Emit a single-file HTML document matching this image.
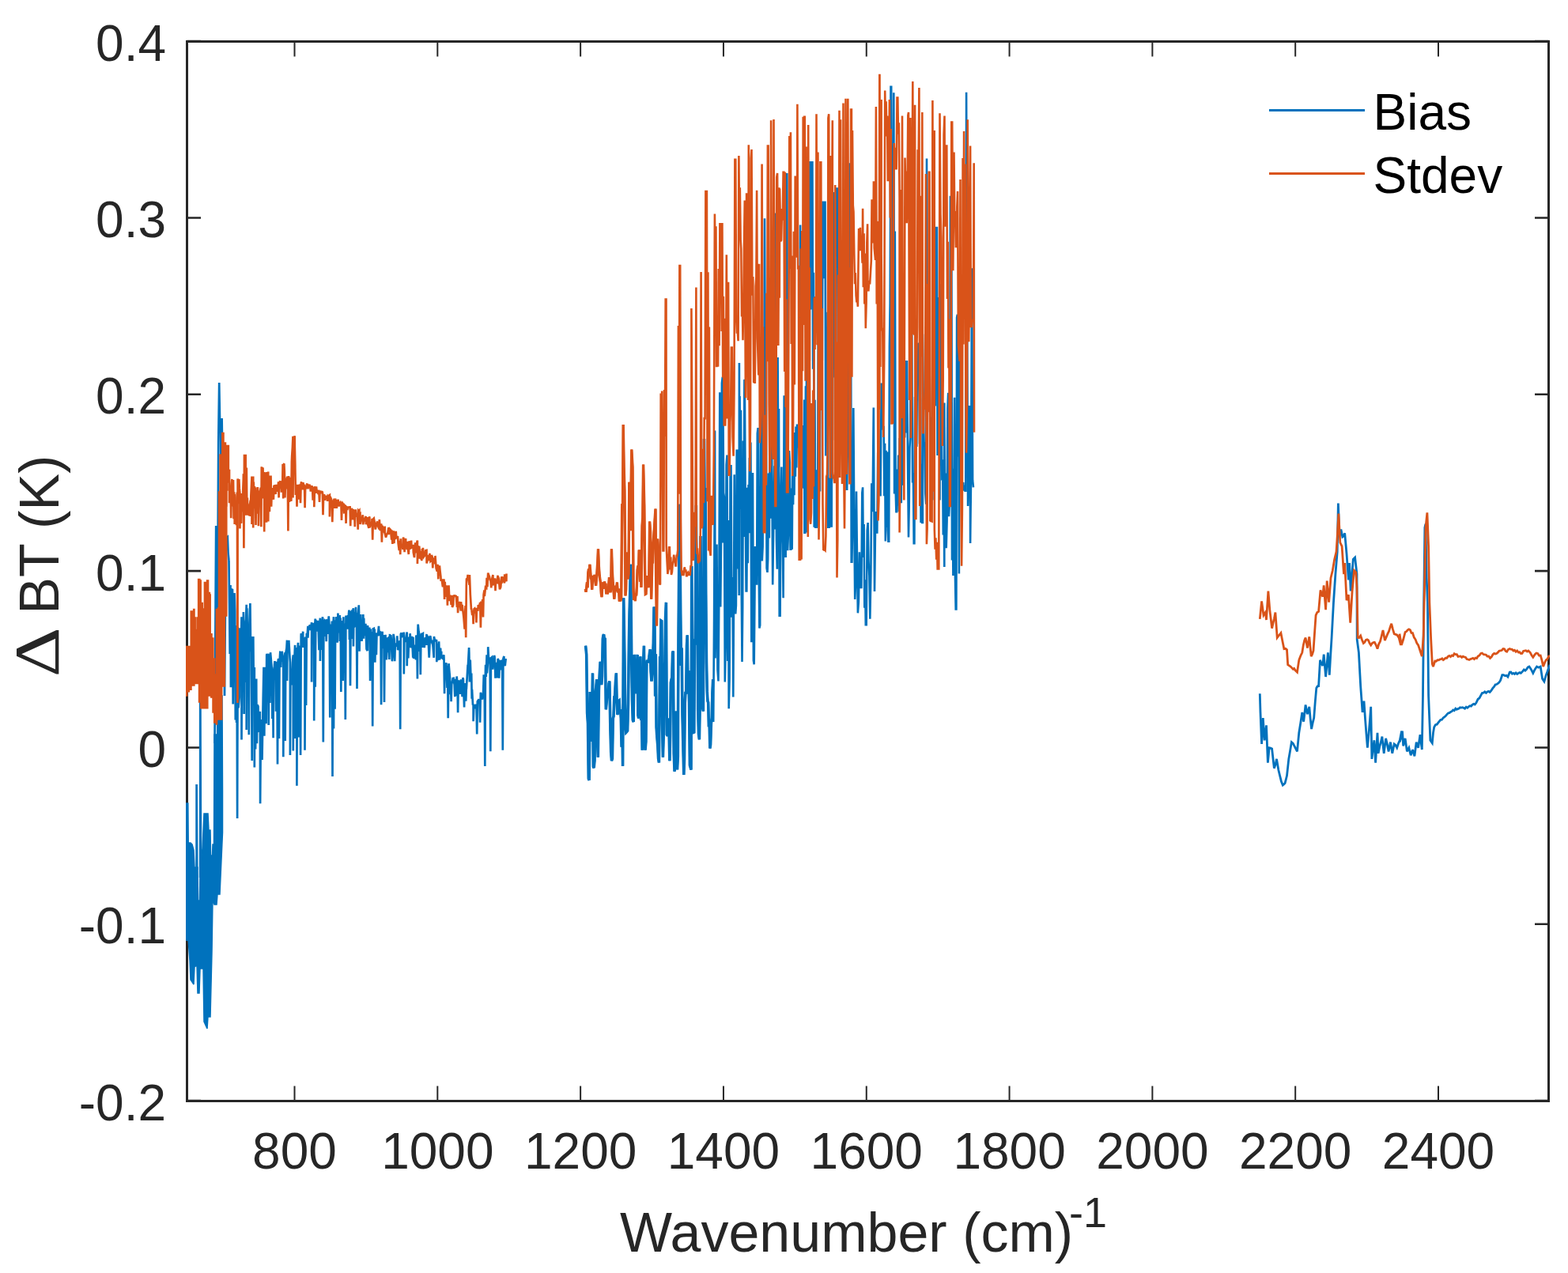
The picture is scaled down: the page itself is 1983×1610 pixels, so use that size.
<!DOCTYPE html>
<html><head><meta charset="utf-8"><style>
html,body{margin:0;padding:0;background:#fff;}
svg{display:block;}
text{font-family:"Liberation Sans",Arial,sans-serif;}
</style></head><body>
<svg width="1983" height="1610" viewBox="0 0 1983 1610">
<defs><clipPath id="clip"><rect x="235" y="51" width="1725" height="1343"/></clipPath></defs>
<rect width="1983" height="1610" fill="#fff"/>
<g fill="none" stroke="#262626" stroke-width="3">
<path stroke-width="2" d="M372.51,1392.5V1373.5M372.51,52.5V71.5M553.32,1392.5V1373.5M553.32,52.5V71.5M734.13,1392.5V1373.5M734.13,52.5V71.5M914.94,1392.5V1373.5M914.94,52.5V71.5M1095.76,1392.5V1373.5M1095.76,52.5V71.5M1276.57,1392.5V1373.5M1276.57,52.5V71.5M1457.38,1392.5V1373.5M1457.38,52.5V71.5M1638.19,1392.5V1373.5M1638.19,52.5V71.5M1819.01,1392.5V1373.5M1819.01,52.5V71.5"/>
<path stroke-width="2.6" d="M236.5,1392.10H254.0M1958.5,1392.10H1941.0M236.5,1168.77H254.0M1958.5,1168.77H1941.0M236.5,945.43H254.0M1958.5,945.43H1941.0M236.5,722.10H254.0M1958.5,722.10H1941.0M236.5,498.77H254.0M1958.5,498.77H1941.0M236.5,275.43H254.0M1958.5,275.43H1941.0M236.5,52.10H254.0M1958.5,52.10H1941.0"/>
<rect x="236.5" y="52.5" width="1722.0" height="1340.0"/>
</g>
<g fill="none" stroke-width="2.7" stroke-linejoin="miter" stroke-miterlimit="3" stroke-linecap="butt">
<g clip-path="url(#clip)">
<path fill="#0072bd" stroke="#0072bd" stroke-width="1.5" d="M235.5,1016.0L237.8,1016.0L238.2,1066.0L241.0,1066.0L243.0,1068.0L245.0,1075.0L246.0,1097.0L250.0,1097.0L250.5,1139.0L252.5,1139.0L253.0,1100.0L256.0,1073.0L258.0,1029.0L263.0,1029.0L264.0,1050.0L266.0,1050.0L266.5,1082.0L268.5,1082.0L269.0,1068.0L270.5,1068.0L271.0,929.0L276.0,929.0L277.0,880.0L281.0,880.0L281.5,1000.0L281.5,1053.0L278.0,1131.0L275.0,1131.0L274.0,1144.0L271.0,1144.0L269.0,1137.0L268.0,1204.0L266.0,1286.0L263.0,1286.0L262.0,1301.0L258.0,1292.0L257.0,1225.0L253.0,1225.0L252.0,1256.0L250.0,1256.0L249.0,1221.0L246.0,1223.0L245.0,1245.0L241.0,1239.0L240.0,1215.0L238.0,1187.0L235.5,1187.0Z"/>
<path stroke="#0072bd" d="M289.5,709.0L290.7,826.9L291.5,740.0L291.9,869.2L293.1,745.6L294.0,746.0L294.1,753.4L294.7,890.5L295.3,796.8L296.5,750.0L296.7,756.2L297.2,772.8L297.8,910.6L298.4,807.8L299.1,914.0L299.3,791.1L299.5,812.4L300.1,1034.9L300.7,793.1L301.5,895.3L302.7,881.7L303.2,794.2L303.9,815.3L304.9,811.6L305.5,780.2L305.5,935.5L306.1,785.6L307.5,849.2L307.9,774.0L308.0,778.1L308.6,902.9L309.2,785.7L309.9,863.1L310.2,791.1L311.1,782.8L311.7,764.7L311.7,923.1L312.3,769.2L313.5,832.8L314.2,795.0L314.8,929.3L315.4,788.3L315.9,771.8L316.4,763.1L317.1,824.2L318.0,805.0L318.1,852.9L318.7,961.9L319.3,850.4L320.3,805.0L320.7,851.8L321.2,877.0L321.8,843.9L321.8,970.4L322.4,858.9L323.1,947.6L324.2,858.6L324.3,882.7L324.9,940.2L325.5,891.3L326.5,893.6L326.7,920.7L327.3,923.1L327.9,922.2L328.8,899.8L329.1,1016.3L329.8,931.4L330.4,909.9L330.4,954.9L331.0,916.0L331.5,961.0L332.7,884.8L333.5,843.9L333.7,848.4L334.3,930.8L334.9,851.1L335.8,843.9L336.0,850.6L336.6,915.3L337.2,828.8L337.4,826.8L337.5,841.1L338.7,832.5L339.1,826.7L339.7,916.9L340.3,831.7L340.7,827.3L341.3,888.9L341.9,835.1L342.0,825.2L342.3,828.7L343.6,843.9L343.8,847.1L344.4,909.1L345.0,846.9L345.0,847.9L345.6,933.2L345.9,847.0L346.2,847.7L346.9,842.9L347.5,836.1L347.5,851.6L348.1,842.5L348.4,842.0L349.0,899.8L349.6,840.5L349.8,836.9L350.4,843.5L351.0,966.6L351.6,836.3L352.1,833.0L352.3,843.1L352.9,933.9L353.5,839.0L354.3,824.4L354.5,823.7L354.6,832.4L355.2,843.9L355.8,828.9L356.7,835.4L356.8,823.7L357.7,836.5L358.3,834.5L358.3,957.2L358.9,839.1L360.1,828.2L360.7,825.2L360.7,937.0L361.3,826.2L362.4,820.0L363.0,809.7L363.0,860.9L363.6,811.9L363.9,816.1L365.1,818.1L365.3,809.7L366.3,828.0L366.9,837.7L366.9,954.9L367.5,845.8L368.7,866.3L370.2,834.1L370.8,828.3L370.8,949.5L371.4,831.3L372.5,830.0L373.1,815.9L373.1,933.9L373.7,824.0L374.8,821.6L375.4,819.0L375.4,993.7L376.0,828.3L377.0,812.8L377.1,817.7L377.7,932.4L378.3,816.7L379.3,819.0L379.5,825.1L380.1,954.9L380.7,804.4L380.9,801.2L381.9,814.2L382.6,803.0L383.2,798.8L383.2,819.0L383.8,810.8L384.3,818.1L384.9,812.5L385.5,806.6L385.5,948.7L386.1,805.6L386.5,810.0L387.1,892.0L387.7,807.1L387.8,801.9L388.8,801.5L389.4,791.8L389.4,806.6L390.0,794.1L390.3,795.5L391.5,791.4L392.5,791.1L392.7,797.1L393.5,795.6L394.1,787.2L394.1,862.5L394.7,788.2L395.1,789.1L396.6,791.1L397.2,788.0L397.2,911.4L397.8,790.2L398.1,795.6L398.7,782.5L398.7,868.7L399.3,783.9L399.9,796.7L401.2,793.3L401.8,784.8L401.8,798.8L402.4,786.5L403.5,822.1L404.3,789.0L404.9,781.7L404.9,836.1L405.5,786.0L405.9,786.7L406.5,822.1L407.1,789.5L408.0,780.2L408.2,785.1L408.8,938.6L409.4,783.7L410.7,804.9L411.1,784.8L412.1,785.6L412.7,811.3L413.3,784.4L413.5,783.3L413.6,792.9L414.2,801.9L414.8,788.5L415.5,782.4L415.8,779.4L416.7,794.7L417.3,907.5L417.9,796.8L418.1,789.5L419.1,819.6L419.9,785.6L420.5,982.1L421.1,790.1L421.4,790.7L422.0,780.2L422.0,921.5L422.6,788.6L423.0,786.0L423.6,896.7L424.2,784.3L425.1,807.1L425.1,780.2L426.1,783.6L426.7,812.8L427.3,785.2L427.4,775.5L428.7,800.4L429.8,777.9L429.9,811.0L430.7,781.5L431.3,874.9L431.9,785.0L432.3,804.2L433.1,785.0L433.7,860.9L434.3,791.1L434.4,780.2L434.7,806.5L436.2,788.6L436.8,909.9L437.4,789.5L437.5,778.6L438.5,786.6L439.1,795.7L439.7,778.2L440.7,780.2L441.4,771.6L441.9,809.1L442.4,774.6L443.0,867.2L443.6,778.0L443.8,772.4L444.3,808.0L445.5,772.7L446.3,772.9L446.9,769.3L446.9,817.5L447.5,773.9L447.9,793.2L449.1,790.6L450.0,767.8L450.3,778.7L450.9,775.0L451.5,871.0L452.1,777.0L452.7,780.0L453.8,765.4L454.0,773.0L454.6,823.7L455.2,781.7L456.2,777.1L456.3,789.3L457.5,810.8L458.7,789.7L459.3,777.1L459.9,807.8L460.2,781.8L460.8,804.3L461.4,789.2L462.3,795.6L462.4,788.7L463.5,820.9L464.7,823.0L465.0,791.1L465.9,803.0L467.1,808.5L467.3,793.4L467.5,804.8L468.1,860.9L468.7,795.5L469.5,827.3L470.6,799.1L471.2,918.4L471.8,795.4L472.8,794.9L473.1,817.3L473.7,795.4L474.3,837.7L474.9,804.0L475.3,804.9L475.9,828.3L476.5,800.4L477.9,804.3L479.0,791.8L479.1,795.8L480.3,804.0L480.5,798.8L481.5,800.3L482.1,891.2L482.7,802.2L483.6,798.8L483.9,820.2L485.4,803.1L486.0,888.1L486.6,809.3L487.5,804.8L487.5,802.7L488.7,834.4L489.2,810.1L489.8,825.2L490.4,807.2L491.1,806.7L492.3,833.9L493.0,801.9L493.1,807.7L493.7,815.9L494.3,803.2L494.7,807.6L495.9,836.3L497.1,823.0L497.6,801.9L498.6,808.4L499.2,836.1L499.8,813.5L500.7,815.7L501.9,816.8L502.3,804.3L503.1,822.1L504.3,818.4L505.6,810.2L506.2,922.3L506.8,802.1L507.7,800.4L507.9,806.0L509.1,803.0L510.2,805.4L510.8,799.6L510.8,852.4L511.4,807.4L512.7,812.0L514.1,802.4L514.7,799.6L514.7,842.3L515.3,809.5L516.3,832.5L517.2,805.6L517.8,819.0L518.4,808.6L518.6,801.2L519.9,819.5L521.1,804.8L522.3,831.6L522.5,805.8L522.6,810.0L523.2,833.0L523.8,815.6L524.7,825.8L525.9,834.2L526.3,803.5L527.3,806.1L527.9,858.6L528.5,796.7L528.7,789.5L529.5,798.6L530.2,801.9L530.7,823.9L531.2,803.3L531.8,853.2L532.4,806.2L533.1,801.8L534.3,801.6L534.9,801.2L534.9,819.0L535.5,807.5L536.7,819.2L537.9,806.0L538.9,811.1L539.5,801.9L539.5,815.9L540.1,804.1L541.5,806.1L542.7,831.6L543.9,805.1L544.2,804.3L545.2,809.7L545.8,811.3L546.4,809.6L547.5,817.0L548.7,831.8L548.9,805.0L549.9,810.0L551.1,810.7L552.0,808.9L552.3,837.2L552.9,813.8L553.5,835.3L554.1,817.8L554.7,819.6L555.1,811.3L555.9,834.6L557.1,819.5L557.6,830.9L558.2,823.7L558.2,833.0L558.8,831.8L559.5,832.4L560.7,829.5L561.3,828.3L561.5,833.7L562.1,877.3L562.7,842.6L563.1,852.2L564.3,838.8L564.4,838.4L565.5,870.0L566.1,842.2L566.7,908.3L567.3,846.7L567.5,839.2L567.9,844.1L569.1,857.8L569.1,878.1L570.0,864.5L570.6,887.3L571.2,865.5L572.7,857.9L573.7,857.8L573.9,861.5L574.7,865.8L575.3,881.1L575.9,858.8L576.3,880.2L577.5,857.3L577.6,855.5L578.5,863.9L579.1,901.3L579.7,864.5L579.9,860.9L581.1,862.6L582.3,878.0L583.0,859.4L583.5,866.1L584.0,865.0L584.6,881.1L585.2,866.9L585.4,857.1L585.9,858.9L587.1,894.5L587.7,864.1L588.3,866.9L588.6,872.2L589.2,886.6L589.8,868.5L590.0,868.7L590.7,856.6L591.6,840.8L591.9,842.1L593.1,819.0L593.3,825.3L593.9,862.5L594.5,839.7L594.7,834.5L595.5,858.4L596.2,851.6L596.7,883.8L597.0,871.8L598.0,891.8L598.6,890.5L598.6,912.2L599.2,896.7L600.3,891.4L601.5,896.1L601.7,890.5L602.6,896.8L603.2,928.5L603.8,887.2L605.1,885.1L605.5,884.2L606.5,889.8L607.1,913.8L607.7,883.3L607.9,875.7L608.7,879.7L609.9,884.6L611.1,876.5L611.8,853.2L612.3,877.1L612.7,853.8L613.3,968.9L613.9,850.2L614.1,840.8L614.7,856.0L615.6,828.3L615.9,851.4L617.1,836.8L617.2,818.2L618.3,837.0L618.8,831.4L619.7,839.7L620.3,950.2L620.9,832.4L621.9,831.4L621.9,834.3L623.1,846.5L624.3,834.5L625.0,829.1L625.5,830.4L625.9,837.5L626.5,857.8L627.1,838.0L627.9,840.1L629.1,857.4L629.6,833.0L630.6,835.1L631.2,857.8L631.8,840.5L632.7,835.2L633.9,847.4L634.3,834.5L635.2,838.5L635.8,948.7L636.4,833.1L637.4,829.9L637.5,836.8L638.7,842.1L639.7,833.0M248.6,1100.0L248.6,992.0L249.2,1100.0M253.2,1110.0L253.2,827.0L254.0,1110.0M275.2,930.0L275.2,856.0L275.8,930.0M271.5,940.0L273.2,665.0L274.5,900.0L276.2,560.0L277.2,484.0L278.2,540.0L279.0,536.0L279.8,650.0L280.6,529.0L281.6,600.0L282.5,700.0L284.0,880.0L285.5,700.0L286.5,680.0L287.8,679.0L288.6,700.0L289.5,709.0M236.5,1016.0L236.5,1190.0"/>
<path stroke="#0072bd" stroke-width="2.8" d="M1593.3,877.3L1594.0,900.9L1595.6,941.0L1597.3,908.0L1599.2,936.3L1601.5,917.4L1603.4,964.6L1605.1,945.7L1606.8,946.2L1608.6,946.9L1610.0,959.5L1611.4,971.7L1613.0,967.0L1614.5,959.9L1616.9,974.0L1618.6,981.0L1620.4,988.2L1622.3,992.9L1623.7,991.8L1625.1,990.6L1627.5,981.1L1629.8,959.9L1631.6,949.5L1633.4,938.6L1635.2,940.1L1636.9,943.4L1638.7,946.9L1640.5,950.4L1642.8,926.8L1644.8,914.2L1646.8,900.9L1648.7,912.7L1651.1,891.4L1653.4,903.2L1655.8,893.8L1657.2,908.8L1658.6,922.1L1660.2,913.9L1661.7,908.0L1663.2,888.5L1664.8,870.2L1666.2,867.9L1667.6,867.8L1669.5,834.8L1671.1,839.2L1672.8,841.9L1674.2,827.7L1676.6,856.0L1678.0,841.2L1679.4,825.3L1681.3,853.7L1682.7,828.8L1684.1,806.5L1686.5,761.6L1688.9,726.2L1691.2,697.9L1692.4,636.5L1694.0,679.0L1695.9,669.6L1697.8,679.0L1699.2,678.0L1700.7,674.3L1703.0,700.2L1705.4,733.3L1706.6,712.0L1708.2,747.5L1709.7,728.7L1711.3,707.3L1713.6,705.0L1716.0,726.2L1716.2,808.8L1718.4,825.3L1720.7,867.8L1723.1,900.9L1725.0,886.7L1726.6,910.3L1728.0,928.4L1729.4,945.7L1731.0,928.3L1732.5,910.3L1733.7,893.8L1734.9,959.9L1736.4,947.1L1737.9,936.3L1739.6,964.6L1742.0,926.8L1743.1,952.8L1744.7,944.4L1746.3,938.7L1747.9,931.6L1750.2,952.8L1752.6,933.9L1754.3,940.9L1756.1,950.4L1758.5,938.6L1760.8,952.8L1763.2,941.0L1765.0,942.5L1766.7,945.7L1768.5,940.3L1770.3,936.3L1772.6,924.5L1770.0,938.6L1772.4,931.6L1773.5,924.5L1774.7,943.4L1777.1,933.9L1779.4,950.4L1781.8,945.7L1784.2,955.2L1786.5,948.1L1788.9,956.3L1791.2,938.6L1793.6,945.7L1796.0,929.2L1798.3,948.1L1799.5,879.6L1800.7,761.6L1801.9,667.2L1803.0,662.5L1804.2,730.9L1805.4,761.6L1806.6,879.6L1807.8,910.3L1808.9,936.3L1811.3,939.8L1812.5,926.8L1813.7,919.8L1815.4,916.7L1817.2,916.2L1818.8,914.1L1820.4,912.1L1821.9,910.3L1823.5,910.1L1825.1,908.0L1826.6,906.8L1828.2,905.6L1829.8,903.6L1831.4,902.0L1832.9,901.7L1834.5,900.4L1836.1,899.7L1837.7,897.9L1839.2,898.7L1840.8,896.1L1842.2,897.3L1843.6,896.6L1845.1,896.0L1846.5,894.7L1847.9,895.0L1849.5,894.6L1851.0,895.2L1852.6,896.1L1854.2,894.2L1855.8,895.3L1857.3,893.8L1858.9,892.7L1860.5,893.2L1862.0,891.4L1863.6,890.3L1865.2,891.1L1866.8,889.1L1869.1,884.3L1870.9,883.0L1872.7,879.6L1874.4,876.5L1876.2,876.1L1877.8,874.9L1879.4,876.4L1880.9,874.9L1882.5,874.4L1884.1,875.5L1885.7,873.7L1888.0,870.2L1889.6,868.3L1891.2,865.8L1892.7,865.5L1894.3,864.3L1895.9,863.1L1897.5,860.7L1899.8,853.7L1901.6,853.6L1903.4,854.8L1905.1,854.3L1906.9,856.0L1909.3,850.1L1910.8,850.0L1912.4,852.2L1914.0,851.3L1915.5,852.4L1917.1,851.0L1918.7,852.5L1920.3,851.4L1921.8,850.6L1923.4,851.3L1925.8,848.9L1927.3,846.9L1928.9,848.2L1930.5,846.6L1932.3,843.9L1934.0,843.0L1936.4,846.6L1938.8,851.3L1941.1,846.6L1943.5,843.0L1945.8,844.2L1948.2,843.0L1950.6,858.4L1952.9,861.9L1955.3,853.7L1956.9,849.5L1958.4,844.9L1960.0,840.7"/>
<path stroke="#0072bd" stroke-width="2.6" d="M740.6,816.7L741.7,827.9L742.6,901.6L743.5,915.2L744.3,984.7L745.1,986.8L746.2,874.9L747.1,934.5L748.0,937.5L748.8,895.3L749.5,851.4L750.3,969.5L751.1,971.1L752.0,961.8L752.9,877.1L753.8,869.3L754.7,859.2L755.5,936.1L756.3,957.7L757.4,872.7L758.3,851.6L759.2,836.9L759.9,860.5L760.7,866.0L761.5,855.1L762.3,807.8L763.0,803.5L763.7,802.4L764.5,811.4L765.2,806.7L766.3,897.3L767.1,888.7L767.8,879.4L768.6,874.9L769.3,877.9L770.0,864.5L770.8,861.5L771.9,921.9L772.7,951.4L773.5,962.1L774.4,959.4L775.3,908.5L776.0,906.0L776.8,881.7L777.5,881.6L778.4,863.5L779.3,851.4L780.1,886.9L780.9,904.0L781.6,900.2L782.4,886.7L783.1,886.1L783.8,902.5L784.6,897.2L785.3,908.5L786.1,944.6L786.8,913.5L787.6,968.9L788.7,756.3L789.8,825.7L790.9,917.4L791.8,926.3L792.7,925.3L793.6,924.1L794.5,889.6L795.4,812.3L796.1,774.5L796.9,743.2L797.6,713.8L798.8,839.1L799.5,885.0L800.3,910.7L801.2,913.1L802.1,827.9L802.9,851.1L803.6,851.1L804.4,877.1L805.2,858.2L806.1,827.9L806.9,904.6L807.7,908.5L808.5,889.1L809.2,850.8L809.9,830.2L810.7,910.9L811.4,894.1L812.2,948.7L812.9,938.5L813.7,836.0L814.4,816.7L815.2,883.7L816.0,948.7L816.9,938.0L817.8,841.3L818.5,834.8L819.3,837.3L820.0,836.9L820.8,831.7L821.5,825.7L822.2,821.2L823.1,849.6L824.0,861.5L824.8,852.7L825.6,832.4L826.3,813.2L827.1,767.6L827.8,772.0L828.6,880.6L829.3,827.3L830.1,919.6L830.9,932.4L831.8,942.8L832.6,959.2L833.4,964.4L834.6,830.2L835.3,834.4L836.0,784.9L836.8,785.4L837.6,916.3L838.4,957.7L839.3,927.8L840.1,852.5L840.9,836.4L841.6,780.9L842.4,761.9L843.3,929.0L844.2,930.8L845.0,923.3L845.7,908.5L846.9,962.1L847.6,929.7L848.3,863.6L849.1,859.2L849.8,857.2L850.6,825.8L851.3,823.4L852.2,953.1L853.1,975.6L853.9,953.8L854.7,899.5L855.6,946.6L856.5,973.3L857.3,956.6L858.0,807.8L859.4,637.8L860.7,774.2L861.5,841.9L862.2,819.5L863.0,904.0L863.9,943.0L864.8,980.0L865.5,960.2L866.2,889.4L867.0,874.9L867.7,877.8L868.5,816.5L869.2,803.3L870.0,865.4L870.7,848.1L871.5,886.1L872.4,967.8L873.3,971.1L874.0,973.5L874.8,716.1L875.6,841.0L876.3,842.8L877.1,926.4L877.8,926.1L878.5,810.4L879.3,807.8L880.4,638.9L881.2,815.4L881.9,711.3L882.7,897.3L883.5,928.0L884.4,935.3L885.2,890.2L886.0,678.0L886.8,806.6L887.7,781.6L888.5,894.8L889.4,899.5L890.5,555.0L891.2,642.4L892.0,617.1L892.7,747.4L893.5,837.9L894.3,874.9L895.0,886.8L895.7,888.4L896.4,919.2L897.1,914.1L897.9,946.5L898.6,941.5L899.4,915.2L900.2,907.8L900.9,876.9L901.7,859.2L902.2,912.9L903.1,779.6L904.0,544.4L904.0,799.8L904.1,545.7L904.5,832.4L905.5,768.8L906.5,688.6L907.5,846.9L908.5,861.5L909.4,747.1L910.3,496.3L911.2,767.5L912.1,675.8L912.9,484.5L913.8,476.8L914.0,686.6L914.2,476.2L915.1,623.3L915.9,628.5L916.8,862.6L917.7,815.6L918.6,587.8L919.5,575.5L920.3,836.0L921.0,658.1L921.7,896.2L922.6,858.2L923.6,589.2L924.5,589.2L925.4,780.6L926.4,730.1L927.3,881.6L928.0,760.9L928.7,600.3L929.5,740.9L930.2,776.5L930.9,765.8L931.7,569.7L932.4,569.7L933.2,719.5L933.9,636.1L934.7,753.0L934.9,459.0L935.2,607.8L935.6,500.9L936.3,643.9L937.0,518.8L937.8,753.0L938.5,836.9L939.2,766.9L939.9,557.6L940.6,679.1L941.4,480.2L941.6,623.5L941.8,479.7L942.7,632.4L943.6,747.4L944.3,747.4L945.1,616.7L945.8,712.2L946.5,612.9L947.2,651.2L947.9,579.0L948.7,674.3L949.4,559.5L950.3,812.3L951.2,745.8L952.0,597.9L952.9,835.5L953.7,840.2L955.0,690.9L956.4,738.4L957.1,738.4L957.8,548.1L958.6,541.1L959.5,700.6L960.4,794.4L961.2,790.9L962.1,433.0L962.9,639.8L963.8,709.4L964.6,691.1L965.4,423.8L966.2,597.7L967.0,276.3L967.9,498.3L968.7,436.0L969.6,718.7L970.5,723.9L971.2,706.7L972.0,598.4L972.8,680.4L973.5,572.8L974.3,655.8L975.0,513.5L975.8,513.5L977.2,739.6L978.2,665.4L979.3,589.3L979.8,669.5L980.3,269.5L981.1,563.1L982.0,683.2L982.8,719.8L983.6,452.1L984.3,605.7L985.0,517.1L985.7,778.7L986.6,778.7L987.5,630.1L988.4,590.5L989.2,668.0L989.9,688.2L990.6,756.3L991.7,500.2L992.8,703.8L993.7,703.8L994.5,309.5L995.3,219.0L996.1,696.1L997.1,671.4L998.0,570.1L998.8,584.7L999.6,694.8L1000.3,694.8L1001.0,617.4L1001.7,694.8L1002.4,583.2L1003.1,638.2L1003.8,555.5L1004.5,626.3L1005.2,547.0L1005.9,602.7L1006.6,539.4L1007.3,591.6L1008.0,536.5L1008.8,548.0L1009.6,566.2L1010.5,563.6L1011.3,580.1L1012.1,284.4L1012.9,517.3L1013.8,579.9L1014.6,537.9L1015.5,594.5L1016.4,617.8L1017.2,505.5L1017.4,673.6L1018.2,673.6L1018.9,488.3L1019.6,673.6L1020.3,308.6L1021.0,606.0L1021.7,435.4L1022.4,582.4L1023.1,260.1L1023.8,456.5L1024.5,204.0L1025.2,391.6L1025.9,204.0L1026.6,373.4L1027.4,204.0L1028.2,466.8L1028.9,344.8L1029.7,666.8L1030.5,505.7L1031.2,666.8L1032.0,666.8L1032.7,666.8L1033.4,594.3L1034.1,666.8L1034.8,405.9L1035.6,608.8L1036.3,431.1L1037.0,621.6L1037.7,254.6L1038.4,431.2L1039.1,273.7L1039.8,456.1L1040.5,254.6L1041.2,352.2L1042.0,254.6L1042.7,337.7L1043.5,254.6L1044.3,576.5L1045.0,446.6L1045.8,559.7L1046.6,394.8L1047.3,666.8L1048.1,666.8L1048.8,666.8L1049.5,604.3L1050.3,666.8L1051.0,343.0L1051.7,666.8L1052.4,345.3L1053.2,477.4L1053.9,258.0L1054.6,456.8L1055.3,243.0L1056.1,556.7L1056.8,238.5L1057.5,324.4L1058.2,238.5L1059.0,238.5L1059.7,446.4L1060.4,292.2L1061.1,471.3L1061.8,325.1L1062.5,470.4L1063.3,368.1L1064.0,530.0L1064.7,542.9L1065.4,603.1L1066.1,589.8L1066.9,484.9L1067.6,444.1L1068.3,382.6L1069.0,509.6L1069.8,413.0L1070.5,618.7L1071.2,618.7L1072.1,543.3L1072.9,323.5L1073.7,374.3L1074.6,206.3L1075.3,483.8L1076.0,335.0L1076.7,710.7L1077.4,710.7L1078.4,649.8L1079.3,516.1L1080.2,643.7L1081.2,757.9L1082.1,737.3L1083.0,621.6L1084.0,710.1L1084.9,775.3L1085.9,761.1L1086.9,698.3L1087.7,732.0L1088.6,743.0L1089.4,743.0L1090.3,623.3L1091.1,616.3L1091.8,705.1L1092.6,663.0L1093.3,768.7L1094.1,733.3L1094.8,790.3L1095.7,790.3L1096.7,670.7L1097.6,661.1L1098.5,709.8L1099.4,727.9L1100.3,782.8L1101.3,728.9L1102.3,611.3L1103.5,647.2L1104.8,515.6L1106.0,748.0L1107.3,646.9L1108.5,673.4L1109.3,673.4L1110.2,574.7L1111.0,542.8L1111.8,601.2L1112.6,571.5L1113.5,627.4L1114.7,484.5L1115.4,509.7L1116.2,484.5L1116.9,543.7L1117.6,538.7L1118.3,627.3L1119.1,560.7L1119.8,684.6L1120.5,569.8L1121.2,666.9L1122.0,571.6L1122.7,670.9L1123.4,684.6L1124.2,684.6L1124.9,439.3L1125.7,383.1L1126.5,109.9L1127.2,109.9L1128.0,360.1L1128.8,184.3L1129.5,342.6L1130.3,117.2L1131.1,624.5L1131.8,292.4L1132.6,617.7L1133.4,647.3L1134.1,647.3L1134.8,593.6L1135.5,639.6L1136.2,575.6L1137.0,647.3L1137.7,554.1L1138.4,613.9L1139.1,554.3L1139.8,636.3L1140.6,485.6L1141.3,613.7L1142.0,486.0L1142.7,598.2L1143.4,458.0L1144.2,553.6L1144.9,457.2L1145.6,547.6L1146.3,457.2L1147.0,457.2L1148.0,579.2L1149.0,679.6L1149.7,640.7L1150.4,566.8L1151.1,554.9L1151.8,419.9L1152.5,525.6L1153.2,419.9L1154.1,610.5L1154.9,598.0L1155.7,687.1L1156.4,687.1L1157.1,501.9L1157.9,657.0L1158.6,487.9L1159.3,565.0L1160.0,457.1L1160.7,433.6L1161.5,479.6L1162.3,472.3L1163.0,561.5L1163.8,503.4L1164.6,661.0L1165.4,586.8L1166.1,661.0L1166.9,661.0L1166.9,422.4L1167.7,509.1L1168.6,559.1L1169.5,563.0L1170.3,624.0L1171.2,637.7L1172.0,200.6L1172.8,502.9L1173.8,508.4L1174.8,511.8L1175.6,462.1L1176.4,537.2L1177.1,527.5L1177.9,632.4L1178.6,566.9L1179.3,632.4L1179.3,499.4L1180.1,479.5L1181.0,506.7L1181.8,490.5L1182.7,513.4L1183.5,286.7L1184.2,460.3L1184.9,286.7L1185.6,576.1L1186.4,376.1L1187.1,573.9L1187.8,396.2L1188.5,632.6L1189.2,359.3L1190.0,580.0L1190.7,530.3L1191.4,607.6L1192.1,581.3L1192.8,676.4L1193.5,602.0L1194.3,716.9L1194.3,509.4L1195.1,660.2L1195.9,598.5L1196.7,693.3L1197.6,658.5L1198.4,516.4L1199.2,496.9L1200.0,653.2L1201.1,630.5L1201.9,247.7L1202.6,411.8L1203.3,263.9L1204.0,708.4L1204.7,592.8L1205.4,728.1L1206.3,642.5L1207.1,502.7L1207.9,726.5L1208.7,770.4L1209.4,770.4L1210.1,401.6L1210.8,397.7L1211.5,577.6L1212.2,456.4L1212.9,725.6L1212.9,427.3L1213.7,605.2L1214.5,606.8L1215.2,607.8L1216.0,615.9L1216.7,608.2L1217.5,613.3L1218.2,610.2L1219.0,620.7L1219.8,613.6L1220.5,620.7L1221.3,620.7L1222.1,116.7L1223.1,402.8L1224.1,639.9L1224.9,602.5L1225.7,514.3L1226.6,514.3L1227.1,687.1L1228.1,598.6L1229.1,339.2L1230.1,607.4L1231.0,616.3"/>
<path stroke="#0072bd" stroke-width="3.6" d="M740.6,816.7L741.7,827.9L742.6,901.6L743.5,915.2L744.3,984.7L745.1,986.8L746.2,874.9L747.1,934.5L748.0,937.5L748.8,895.3L749.5,851.4L750.3,969.5L751.1,971.1L752.0,961.8L752.9,877.1L753.8,869.3L754.7,859.2L755.5,936.1L756.3,957.7L757.4,872.7L758.3,851.6L759.2,836.9L759.9,860.5L760.7,866.0L761.5,855.1L762.3,807.8L763.0,803.5L763.7,802.4L764.5,811.4L765.2,806.7L766.3,897.3L767.1,888.7L767.8,879.4L768.6,874.9L769.3,877.9L770.0,864.5L770.8,861.5L771.9,921.9L772.7,951.4L773.5,962.1L774.4,959.4L775.3,908.5L776.0,906.0L776.8,881.7L777.5,881.6L778.4,863.5L779.3,851.4L780.1,886.9L780.9,904.0L781.6,900.2L782.4,886.7L783.1,886.1L783.8,902.5L784.6,897.2L785.3,908.5L786.1,944.6L786.8,913.5L787.6,968.9L788.7,756.3L789.8,825.7L790.9,917.4L791.8,926.3L792.7,925.3L793.6,924.1L794.5,889.6L795.4,812.3L796.1,774.5L796.9,743.2L797.6,713.8L798.8,839.1L799.5,885.0L800.3,910.7L801.2,913.1L802.1,827.9L802.9,851.1L803.6,851.1L804.4,877.1L805.2,858.2L806.1,827.9L806.9,904.6L807.7,908.5L808.5,889.1L809.2,850.8L809.9,830.2L810.7,910.9L811.4,894.1L812.2,948.7L812.9,938.5L813.7,836.0L814.4,816.7L815.2,883.7L816.0,948.7L816.9,938.0L817.8,841.3L818.5,834.8L819.3,837.3L820.0,836.9L820.8,831.7L821.5,825.7L822.2,821.2L823.1,849.6L824.0,861.5L824.8,852.7L825.6,832.4L826.3,813.2L827.1,767.6L827.8,772.0L828.6,880.6L829.3,827.3L830.1,919.6L830.9,932.4L831.8,942.8L832.6,959.2L833.4,964.4L834.6,830.2L835.3,834.4L836.0,784.9L836.8,785.4L837.6,916.3L838.4,957.7L839.3,927.8L840.1,852.5L840.9,836.4L841.6,780.9L842.4,761.9L843.3,929.0L844.2,930.8L845.0,923.3L845.7,908.5L846.9,962.1L847.6,929.7L848.3,863.6L849.1,859.2L849.8,857.2L850.6,825.8L851.3,823.4L852.2,953.1L853.1,975.6L853.9,953.8L854.7,899.5L855.6,946.6L856.5,973.3L857.3,956.6L858.0,807.8L859.4,637.8L860.7,774.2L861.5,841.9L862.2,819.5L863.0,904.0L863.9,943.0L864.8,980.0L865.5,960.2L866.2,889.4L867.0,874.9L867.7,877.8L868.5,816.5L869.2,803.3L870.0,865.4L870.7,848.1L871.5,886.1L872.4,967.8L873.3,971.1L874.0,973.5L874.8,716.1L875.6,841.0L876.3,842.8L877.1,926.4L877.8,926.1L878.5,810.4L879.3,807.8L880.4,638.9L881.2,815.4L881.9,711.3L882.7,897.3L883.5,928.0L884.4,935.3L885.2,890.2L886.0,678.0L886.8,806.6L887.7,781.6L888.5,894.8L889.4,899.5L890.5,555.0L891.2,642.4L892.0,617.1L892.7,747.4L893.5,837.9L894.3,874.9L895.0,886.8L895.7,888.4L896.4,919.2L897.1,914.1L897.9,946.5L898.6,941.5L899.4,915.2L900.2,907.8L900.9,876.9L901.7,859.2"/>
<path fill="#d95319" stroke="#d95319" stroke-width="1.5" d="M235.4,817.4L239.3,817.4L239.3,817.4L241.2,817.4L241.2,773.0L244.6,773.0L244.6,770.5L246.0,770.5L246.0,781.0L247.2,781.0L247.2,796.5L249.0,796.5L249.0,781.0L250.6,781.0L250.6,732.6L252.9,732.6L252.9,734.0L254.2,734.0L254.2,762.6L256.3,762.6L256.3,770.0L258.4,770.0L258.4,736.5L261.5,736.5L261.5,734.0L263.6,734.0L263.6,749.6L265.4,749.6L265.4,752.0L266.2,752.0L266.2,801.8L268.0,801.8L268.0,807.0L269.9,807.0L269.9,833.0L271.5,833.0L271.5,853.0L273.3,853.0L273.3,770.5L275.7,770.5L275.7,768.8L276.5,768.8L276.5,622.0L278.0,622.0L278.0,575.0L280.7,575.0L280.7,547.4L281.9,547.4L281.9,547.4L283.0,547.4L283.0,560.0L285.5,560.0L285.5,563.6L288.1,563.6L288.1,563.6L289.4,563.6L289.4,594.7L290.0,594.7L290.0,610.0L290.0,610.0L288.0,610.0L288.0,620.0L287.0,620.0L287.0,640.0L286.8,640.0L286.8,779.0L284.4,779.0L284.4,779.0L284.4,779.0L284.4,868.0L282.0,868.0L282.0,868.0L280.7,868.0L280.7,910.0L277.0,910.0L277.0,910.0L276.0,910.0L276.0,880.0L274.6,880.0L274.6,916.0L273.3,916.0L273.3,914.0L270.7,914.0L270.7,900.9L269.0,900.9L269.0,882.0L266.7,882.0L266.7,880.0L262.8,880.0L262.8,895.7L257.6,895.7L257.6,895.7L253.7,895.7L253.7,887.9L251.5,887.9L251.5,864.4L249.8,864.4L249.8,864.4L245.9,864.4L245.9,867.0L242.0,867.0L242.0,872.2L239.3,872.2L239.3,874.8L236.7,874.8L236.7,880.0L235.4,880.0L235.4,854.0Z"/>
<path stroke="#d95319" d="M289.4,597.5L290.0,593.7L290.0,636.2L290.6,613.9L291.1,617.1L291.2,622.1L291.6,615.3L292.2,655.2L292.8,612.2L293.4,606.0L293.6,640.4L295.0,618.8L295.0,607.1L295.6,656.3L296.1,622.3L296.2,630.1L296.7,625.0L296.7,663.0L297.3,641.5L297.8,636.2L298.3,634.3L298.9,664.1L299.5,628.8L299.9,622.5L300.5,889.0L300.6,605.4L301.1,610.7L302.0,637.3L302.3,606.0L302.8,617.4L303.4,623.9L303.4,668.6L304.0,624.0L304.5,634.8L305.1,661.9L305.7,623.9L305.7,623.9L306.2,628.4L306.8,647.3L307.4,617.0L307.8,606.8L307.9,599.3L308.4,693.2L309.0,574.7L309.0,576.8L310.1,585.6L310.7,574.7L310.7,651.8L311.3,595.9L311.8,599.7L311.8,591.4L312.4,651.8L312.9,629.4L313.0,635.9L314.0,641.1L315.2,652.4L316.2,637.1L316.8,632.8L316.8,652.9L317.4,626.4L317.9,616.0L318.5,602.6L318.5,663.0L319.1,611.2L319.6,608.2L320.2,602.6L320.2,667.5L320.8,609.5L321.2,629.3L321.9,614.9L322.4,643.1L322.9,616.6L323.5,664.1L324.1,624.2L324.8,649.8L325.8,616.0L326.3,621.9L326.9,620.5L326.9,665.2L327.5,627.5L328.4,625.7L329.1,622.2L329.7,616.6L330.3,666.3L330.8,590.3L330.9,601.8L332.0,592.3L332.5,591.4L333.2,630.5L333.6,606.9L334.2,597.0L334.2,672.5L334.8,597.5L335.6,616.6L335.8,597.6L336.4,600.1L337.0,660.8L337.5,597.0L337.6,601.4L338.0,630.7L338.6,609.8L339.2,596.5L339.2,659.6L339.8,608.7L340.3,604.2L340.9,601.5L340.9,647.3L341.5,604.3L342.5,610.6L342.5,601.5L343.1,640.6L343.7,620.9L344.8,617.1L345.3,628.3L345.9,631.7L346.5,613.8L346.5,617.6L347.6,613.4L348.1,620.9L348.7,625.0L349.3,612.7L349.3,617.5L350.0,620.7L351.2,620.4L352.0,610.8L352.1,609.3L352.6,629.4L353.2,611.7L353.6,610.8L354.3,608.2L354.8,617.7L355.4,608.9L356.0,622.7L356.6,610.4L357.1,608.2L357.2,612.8L357.6,588.8L357.6,587.0L358.2,630.6L358.8,587.1L359.3,586.4L359.8,596.2L360.4,629.4L361.0,611.0L361.0,609.3L361.0,609.8L361.6,618.3L362.2,607.6L363.2,603.0L363.2,602.6L363.8,605.0L364.4,671.4L364.9,602.1L365.0,603.2L365.4,603.5L366.0,635.0L366.6,604.3L367.7,606.9L367.7,604.3L368.3,633.9L368.9,584.3L369.2,576.5L369.9,565.9L370.5,551.7L370.5,629.4L371.1,554.3L371.6,556.9L372.7,551.2L372.8,565.1L373.3,588.9L373.3,591.4L373.9,626.1L374.4,613.8L374.5,615.4L374.9,614.1L375.5,640.6L376.1,613.9L377.7,614.0L378.3,613.8L378.3,631.7L378.9,615.4L379.4,614.4L380.0,636.2L380.6,612.6L381.1,609.3L381.2,613.2L382.2,610.6L382.8,619.4L383.4,609.9L383.4,611.8L385.0,614.5L385.6,642.3L386.2,613.8L386.2,614.9L386.7,615.0L387.3,618.3L387.9,612.7L388.4,611.6L388.4,613.7L388.9,612.0L389.5,618.3L390.1,613.0L390.8,616.7L391.2,612.7L392.3,615.9L392.9,621.6L393.5,615.5L394.4,614.6L394.5,614.4L395.1,617.5L395.7,632.8L396.3,617.1L396.7,616.9L397.3,616.6L397.3,641.2L397.9,618.9L398.4,619.1L399.0,623.9L399.6,616.6L400.1,616.6L400.4,619.1L401.6,622.7L402.8,624.8L402.9,619.9L403.4,622.1L404.0,635.0L404.6,620.6L405.2,622.8L406.4,623.1L407.4,621.1L407.6,623.7L407.9,622.6L408.5,651.2L409.1,627.6L409.6,626.1L410.2,626.3L410.8,632.8L411.4,627.2L412.4,631.2L412.4,626.7L413.5,629.5L414.1,633.9L414.7,627.6L416.0,629.1L416.3,626.5L416.9,626.1L416.9,653.5L417.5,628.0L418.4,629.9L419.7,633.4L419.7,632.8L420.3,660.2L420.9,634.1L422.0,639.3L422.5,630.9L422.5,630.6L423.1,642.9L423.7,633.3L424.2,630.6L424.4,636.2L425.2,632.1L425.8,642.9L426.4,634.2L426.8,637.9L427.5,631.7L428.0,635.0L428.6,640.6L429.2,634.6L430.4,636.9L430.9,635.6L431.4,636.5L432.0,658.0L432.6,637.5L433.1,636.2L433.6,637.0L434.2,640.6L434.8,639.8L435.2,648.2L436.4,648.0L436.5,639.5L437.0,639.8L437.6,661.9L438.2,640.1L438.7,643.2L439.3,645.1L439.8,640.6L439.9,641.5L441.2,641.6L442.6,642.0L442.6,640.1L443.2,665.2L443.8,643.0L444.8,646.5L444.9,642.9L445.4,644.2L446.0,657.4L446.6,644.1L447.2,652.7L447.6,644.5L448.2,647.8L448.8,666.3L449.4,648.1L449.9,644.5L450.8,653.7L452.1,648.8L452.7,669.7L453.3,645.8L453.8,646.4L454.4,645.7L454.4,663.0L455.0,650.6L455.5,650.1L455.6,662.9L456.8,656.4L457.1,654.8L457.7,656.3L458.3,653.4L458.8,651.2L459.2,663.4L460.5,655.0L461.1,659.6L461.7,655.5L462.7,652.9L462.8,663.2L464.0,658.2L465.0,654.0L465.2,663.2L466.4,667.8L467.3,653.2L467.6,667.2L468.8,662.3L470.0,664.3L470.6,655.9L471.2,682.7L471.8,657.9L472.4,655.9L472.8,655.5L473.6,659.8L474.8,669.6L476.0,663.3L477.2,659.5L478.4,666.2L479.6,669.2L479.8,657.1L480.8,671.2L482.1,662.5L482.3,664.2L482.9,685.8L483.5,664.7L484.4,670.6L485.6,672.5L486.7,665.6L486.8,674.5L488.0,679.7L489.2,675.6L490.4,673.7L491.4,667.2L491.6,675.9L492.8,668.8L494.0,670.0L495.2,682.7L495.3,670.3L496.4,688.0L497.8,671.4L498.4,687.3L499.0,672.8L500.0,682.2L500.7,671.8L501.2,680.1L502.4,679.4L503.0,678.0L503.6,687.2L504.8,696.1L505.6,683.9L506.2,701.3L506.8,681.3L507.2,692.9L508.4,689.0L509.6,695.1L510.0,679.6L511.0,683.6L511.6,698.2L512.2,684.2L513.1,681.1L513.2,685.4L514.1,686.9L514.7,695.1L515.3,684.7L515.6,692.2L516.8,701.0L517.8,684.2L518.0,694.8L518.8,685.6L519.4,690.5L520.0,685.3L520.1,683.5L520.4,692.6L521.6,691.9L522.5,688.9L522.8,698.7L524.0,705.1L525.2,686.3L526.4,699.5L527.3,685.8L527.9,683.5L527.9,713.0L528.5,690.0L528.8,701.5L530.0,706.4L530.2,690.5L531.2,704.8L532.4,706.7L532.7,696.7L533.3,709.1L533.9,694.0L534.8,702.5L534.9,692.8L536.0,704.1L537.2,702.4L538.4,696.2L539.5,695.9L539.6,712.5L540.8,708.0L542.0,702.1L543.2,709.1L543.4,699.8L544.4,709.9L545.6,708.7L545.8,702.1L546.7,704.2L547.3,718.4L547.9,705.5L549.2,709.2L550.4,713.0L550.4,702.9L551.6,718.7L552.8,722.7L553.5,713.8L553.7,717.1L554.3,732.4L554.9,718.0L555.2,723.4L555.9,715.3L556.4,720.8L557.4,729.3L557.6,733.7L558.8,733.7L560.0,742.2L561.3,732.4L561.5,734.2L562.1,758.0L562.7,735.9L563.6,754.1L564.4,740.2L564.8,754.9L565.3,741.5L565.9,765.8L566.5,740.6L567.2,754.9L567.5,740.2L568.4,760.0L569.6,756.0L569.8,752.6L570.0,755.6L570.6,765.0L571.2,753.0L572.0,768.0L573.2,764.9L573.7,752.6L574.4,754.3L575.6,753.5L576.8,753.9L578.0,767.8L578.4,754.1L578.5,755.1L579.1,775.1L579.7,761.7L580.4,764.8L580.7,761.1L581.6,763.1L582.8,772.5L583.0,761.1L584.0,769.8L584.6,765.0L585.2,770.6L586.4,780.6L587.6,795.6L587.7,786.7L588.6,766.1L589.2,806.2L589.8,740.8L590.0,732.4L591.2,731.3L591.6,727.0L592.4,731.9L593.6,739.7L593.9,727.0L594.8,751.6L596.0,771.2L596.2,769.7L597.2,778.1L598.0,772.3L598.6,789.1L599.2,774.3L599.6,770.1L600.1,769.7L600.8,775.8L601.8,768.8L602.4,787.5L603.0,769.4L604.4,772.8L604.8,765.0L605.6,767.2L606.8,764.2L607.1,761.9L607.3,765.9L607.9,793.7L608.5,760.6L609.2,775.1L610.2,758.0L610.4,762.1L611.0,780.5L611.6,752.0L612.5,746.4L612.8,754.0L614.0,742.7L615.2,743.7L615.6,730.8L616.4,742.1L617.2,724.6L617.6,726.0L618.8,728.9L620.0,734.2L620.3,732.4L621.2,743.3L622.4,731.5L623.4,727.0L623.6,739.2L624.8,738.9L625.9,731.3L626.5,747.1L627.1,732.5L628.4,737.0L629.0,731.9L629.6,727.7L629.6,738.6L630.2,729.6L630.8,731.9L632.0,745.3L633.2,742.6L634.3,729.3L634.4,738.0L635.2,729.1L635.8,736.3L636.4,730.2L636.8,731.1L638.0,737.4L638.2,726.2L639.2,732.5L640.4,735.2L640.5,725.4"/>
<path stroke="#d95319" stroke-width="2.8" d="M1593.3,782.9L1595.6,760.4L1598.0,778.1L1600.3,774.6L1601.5,784.0L1603.9,747.5L1605.8,771.1L1607.2,782.7L1608.6,794.7L1610.0,788.1L1611.4,782.5L1612.9,774.6L1615.2,806.5L1616.8,804.4L1618.4,802.5L1619.9,800.6L1621.9,810.8L1623.9,820.6L1625.7,820.3L1627.5,821.8L1628.7,840.7L1630.4,841.9L1632.2,843.0L1633.7,844.6L1635.2,846.2L1636.6,845.4L1638.1,847.8L1640.5,850.1L1642.8,834.8L1644.8,829.5L1646.8,825.3L1648.3,815.9L1649.7,810.0L1651.1,806.5L1653.4,819.4L1655.8,805.3L1658.2,830.1L1659.6,827.4L1661.0,823.0L1662.5,801.1L1664.1,778.1L1665.8,774.5L1667.6,773.4L1670.0,746.3L1671.4,751.8L1672.8,754.5L1674.2,740.4L1676.6,771.1L1678.2,734.5L1680.6,761.6L1683.0,730.9L1685.3,721.5L1687.7,707.3L1690.0,697.9L1691.2,679.0L1692.9,649.5L1694.8,686.1L1697.1,690.8L1699.5,726.2L1700.7,712.0L1703.0,759.3L1705.4,752.2L1707.7,787.6L1710.1,747.5L1712.5,721.5L1714.8,723.9L1716.0,742.7L1717.2,806.5L1718.9,806.6L1720.7,804.1L1722.5,809.3L1724.3,813.5L1725.8,812.3L1727.4,809.4L1729.0,808.8L1730.5,809.8L1732.1,813.6L1733.7,815.9L1735.3,813.5L1736.8,812.7L1738.4,812.4L1740.2,815.8L1742.0,820.6L1743.7,814.6L1745.5,811.2L1747.3,804.0L1749.0,797.0L1751.4,810.0L1753.2,805.7L1754.9,801.7L1756.5,798.4L1758.1,793.1L1759.7,788.8L1761.4,795.6L1763.2,801.7L1765.0,802.3L1766.7,802.9L1769.1,806.5L1771.5,815.9L1770.0,801.7L1772.4,815.9L1774.7,808.8L1777.1,799.4L1778.7,798.7L1780.2,796.9L1781.8,795.8L1783.4,796.8L1784.9,800.4L1786.5,800.6L1788.3,806.1L1790.1,808.8L1791.8,813.3L1793.6,815.9L1796.0,823.0L1798.3,830.1L1800.2,804.1L1801.9,726.2L1803.0,667.2L1804.9,648.3L1806.6,690.8L1807.8,761.6L1809.7,808.8L1811.3,839.5L1812.5,843.0L1814.8,836.0L1816.4,836.2L1818.0,834.7L1819.6,834.8L1821.0,833.8L1822.4,833.7L1823.8,832.9L1825.2,834.6L1826.6,833.6L1828.2,832.1L1829.8,832.2L1831.4,830.1L1832.9,829.4L1834.5,830.6L1836.1,828.9L1837.7,829.5L1839.2,826.7L1840.8,827.7L1842.4,827.7L1844.0,830.4L1845.5,830.1L1847.1,830.0L1848.7,831.4L1850.2,830.1L1851.8,831.0L1853.4,831.2L1855.0,833.6L1856.5,834.0L1858.1,834.4L1859.7,833.6L1861.3,833.0L1862.8,832.4L1864.4,833.6L1866.0,832.0L1867.6,832.5L1869.1,830.1L1870.9,829.0L1872.7,826.5L1874.4,826.0L1876.2,827.7L1877.8,827.8L1879.4,828.2L1880.9,830.1L1882.7,830.0L1884.5,832.4L1886.2,830.9L1888.0,827.7L1889.6,826.4L1891.2,827.1L1892.7,826.5L1894.3,825.2L1895.9,823.3L1897.5,823.0L1899.2,822.5L1901.0,820.6L1902.6,820.8L1904.1,823.4L1905.7,824.2L1907.5,821.3L1909.3,820.6L1910.8,821.2L1912.4,821.4L1914.0,823.0L1915.5,822.3L1917.1,824.3L1918.7,823.0L1920.3,825.0L1921.8,824.8L1923.4,826.5L1925.0,826.4L1926.6,823.4L1928.1,823.0L1929.7,822.7L1931.3,824.0L1932.9,823.0L1935.2,825.3L1937.0,828.7L1938.8,831.2L1941.1,827.7L1942.9,826.0L1944.7,826.5L1946.4,829.1L1948.2,828.9L1950.0,835.2L1951.7,843.0L1953.5,838.2L1955.3,834.8L1956.9,833.6L1958.4,830.4L1960.0,828.9"/>
<path stroke="#d95319" stroke-width="2.6" d="M740.3,745.0L741.0,748.7L741.7,743.6L742.4,736.5L743.1,743.3L743.8,724.5L744.5,719.6L745.2,723.7L745.9,713.9L746.6,721.8L747.3,731.5L748.0,732.5L748.7,746.0L749.5,732.6L750.2,728.1L751.1,734.4L751.9,727.0L752.7,733.7L753.6,740.8L754.3,733.1L755.1,721.8L755.8,710.5L756.5,694.3L757.4,717.2L758.2,728.1L758.9,733.3L759.6,737.9L760.3,750.3L761.0,755.1L761.8,740.3L762.5,736.5L763.2,743.3L763.9,742.9L764.6,735.5L765.3,744.6L766.0,737.8L766.7,751.3L767.4,743.8L768.1,751.2L768.8,749.2L769.6,742.6L770.5,730.2L771.2,739.9L772.0,749.2L772.7,743.9L773.4,694.3L774.3,721.8L775.1,736.5L776.0,747.4L776.8,757.7L777.5,750.0L778.2,746.3L778.9,740.8L779.7,743.3L780.4,736.5L781.1,746.4L781.9,749.2L782.6,744.5L783.3,760.8L784.0,756.6L784.8,760.3L785.7,755.5L786.7,637.3L787.5,640.8L788.2,537.0L789.1,590.7L789.9,620.4L791.0,753.4L791.7,744.8L792.4,698.5L793.3,721.2L794.1,732.3L795.0,725.6L795.8,609.8L796.6,648.7L797.3,671.1L798.0,622.0L798.8,568.6L800.0,590.8L801.1,747.1L801.8,758.9L802.6,753.4L803.3,760.2L804.0,750.4L804.7,753.4L805.4,741.6L806.1,721.0L806.8,715.4L807.5,723.4L808.2,695.6L808.9,698.5L809.6,735.7L810.3,714.9L811.0,742.9L812.1,664.7L812.8,654.3L813.6,587.6L814.8,639.4L815.6,719.6L816.3,751.3L817.0,750.9L817.7,735.3L818.4,728.1L819.2,735.8L819.9,742.9L820.7,738.9L821.6,659.5L822.6,673.2L823.7,757.7L824.8,711.2L825.5,711.1L826.2,685.9L827.1,673.5L827.9,660.5L829.0,643.6L829.7,734.1L830.5,791.4L831.7,681.6L832.5,694.9L833.2,702.7L834.3,738.6L835.0,739.6L835.7,497.5L836.5,615.2L837.2,494.6L838.5,696.4L839.3,696.4L840.1,493.1L840.9,552.0L841.7,378.6L842.5,378.6L842.7,690.1L843.6,710.7L844.4,726.0L845.2,721.1L846.1,692.2L846.9,692.2L847.6,720.5L848.3,704.5L849.0,727.0L849.9,723.6L850.7,713.3L851.5,709.5L852.2,701.7L852.9,706.9L853.6,709.0L854.3,715.4L855.0,715.4L855.7,702.7L856.4,702.7L857.2,695.7L857.9,412.0L858.7,624.8L859.4,336.1L860.2,336.1L861.0,657.0L861.7,721.8L862.4,725.5L863.1,724.3L863.8,727.0L864.5,727.0L865.2,719.4L865.9,717.5L866.6,723.6L867.3,720.5L868.1,728.1L868.8,728.1L869.5,724.7L870.2,723.9L871.0,726.9L871.9,727.0L872.7,726.9L873.5,715.9L874.4,715.4L874.4,390.1L875.5,551.4L876.5,709.1L877.2,705.4L877.9,660.6L878.6,647.8L879.5,666.3L880.4,363.6L880.7,679.5L881.4,700.7L882.1,693.3L882.8,711.2L883.5,711.2L884.2,709.1L884.9,709.1L885.8,672.2L886.6,344.1L887.4,668.2L888.2,664.6L889.1,567.8L889.9,636.1L890.7,529.1L891.6,529.1L892.4,240.7L893.1,385.6L893.9,240.7L894.6,634.2L895.4,344.3L896.1,696.4L896.9,413.4L897.6,696.4L898.7,702.7L899.7,626.7L900.4,654.1L901.1,662.8L901.8,662.6L902.8,570.4L903.9,270.6L904.6,334.7L905.4,286.3L906.1,463.0L906.9,463.0L907.3,462.4L908.1,462.4L908.8,340.0L909.6,437.2L910.4,282.1L911.1,327.6L911.9,282.1L912.7,418.9L913.4,282.1L914.2,477.5L914.9,374.8L915.7,538.8L916.5,402.7L917.2,538.8L918.0,499.5L918.8,322.3L919.9,529.4L921.1,356.8L921.8,600.8L922.6,600.8L923.4,534.0L924.1,516.9L924.9,439.5L925.7,439.5L926.6,552.7L927.6,576.7L928.5,492.8L929.4,201.7L930.3,201.7L931.1,400.6L931.9,420.4L932.8,420.3L933.6,431.2L934.4,197.1L935.1,285.4L935.8,237.3L936.6,303.3L937.3,314.8L938.0,400.6L938.7,375.8L939.5,430.3L940.2,388.4L941.0,309.2L941.8,253.4L942.9,503.3L944.1,244.2L944.9,414.5L946.0,505.9L946.8,183.3L947.5,485.8L948.2,596.2L949.0,537.9L949.7,200.2L950.5,189.1L951.4,373.8L952.3,350.1L953.2,483.1L954.0,483.6L954.8,483.6L955.6,362.1L956.4,350.7L957.1,240.7L957.9,428.1L959.3,474.5L960.1,333.8L960.9,560.3L961.9,545.9L962.8,520.4L963.6,207.4L964.3,419.4L965.1,413.5L965.9,673.2L966.6,673.2L967.3,673.2L968.0,524.7L968.8,613.7L969.5,370.7L970.2,457.3L970.9,184.5L971.6,184.5L972.6,510.8L973.5,597.4L974.3,588.1L975.1,152.3L975.9,367.7L976.8,561.7L977.7,581.0L978.5,151.1L979.5,497.9L980.4,639.9L981.3,639.9L982.2,224.0L983.1,218.9L984.3,437.0L985.4,237.3L985.8,376.8L986.1,238.5L987.3,305.1L988.1,303.7L989.0,264.0L989.8,278.7L990.6,217.8L991.4,217.8L992.2,470.1L992.9,217.8L993.6,515.3L994.3,378.5L995.0,623.8L995.8,565.6L996.5,623.8L997.4,422.2L998.3,171.9L999.1,339.8L999.9,167.3L1000.7,435.1L1001.5,323.4L1002.2,602.0L1003.1,533.8L1003.9,292.7L1004.8,486.4L1005.7,222.4L1006.4,276.3L1007.2,269.0L1008.0,325.8L1008.4,131.7L1009.2,340.8L1009.9,335.7L1010.7,707.6L1011.4,707.6L1012.1,707.6L1012.8,314.2L1013.6,707.6L1014.3,292.0L1015.0,469.3L1015.7,147.8L1016.4,411.1L1017.1,147.8L1017.8,147.8L1018.6,481.8L1019.5,185.6L1020.2,428.8L1021.0,271.7L1021.8,678.9L1022.2,158.1L1023.0,408.4L1023.7,338.2L1024.5,657.0L1025.2,662.8L1026.0,648.5L1026.7,510.1L1027.5,630.9L1028.3,493.5L1029.0,615.6L1029.8,376.3L1030.6,441.9L1031.3,376.3L1032.1,376.3L1032.5,144.3L1033.5,436.3L1034.4,192.5L1035.5,682.4L1036.5,588.6L1037.4,205.2L1038.3,205.2L1039.0,519.1L1039.8,389.9L1040.5,638.1L1041.3,695.0L1042.0,695.5L1042.8,695.2L1043.6,696.1L1044.4,678.2L1045.2,602.8L1046.0,600.0L1046.7,556.2L1047.4,149.3L1048.2,144.3L1049.1,513.7L1050.0,605.0L1050.5,197.1L1051.6,332.0L1052.8,152.3L1053.0,598.0L1053.8,605.5L1054.5,603.3L1055.2,610.0L1056.0,610.0L1056.2,233.9L1057.0,474.1L1057.7,432.5L1058.5,730.6L1059.3,682.2L1060.0,347.5L1060.7,444.0L1061.5,139.7L1062.0,604.0L1063.1,151.2L1064.0,488.6L1065.0,612.0L1065.8,458.2L1066.5,130.5L1067.3,599.9L1068.0,668.5L1068.8,557.2L1069.5,124.8L1070.3,371.0L1071.0,600.0L1072.3,124.8L1073.0,348.4L1073.7,338.3L1074.4,611.3L1075.3,611.3L1076.1,138.6L1076.9,138.6L1077.4,476.8L1078.0,165.0L1078.8,259.6L1079.5,268.0L1080.3,321.2L1081.1,359.3L1081.8,345.1L1082.6,374.0L1083.4,382.5L1084.1,378.3L1084.9,387.8L1086.1,289.0L1087.0,317.1L1087.9,287.9L1088.8,316.9L1089.7,306.9L1090.6,332.6L1091.1,263.7L1091.8,363.2L1092.6,295.2L1093.3,384.4L1094.0,320.4L1094.8,415.3L1094.8,413.7L1095.6,383.0L1096.3,307.4L1097.1,283.3L1097.5,367.1L1098.4,367.1L1099.3,354.9L1100.1,359.5L1101.0,344.1L1101.8,330.1L1102.6,252.3L1103.5,291.7L1104.4,307.4L1104.9,229.3L1105.7,313.6L1107.1,328.9L1107.9,135.1L1108.7,384.5L1109.6,279.7L1110.5,658.5L1111.4,633.3L1112.3,93.8L1112.4,517.7L1112.5,93.8L1113.3,464.0L1114.1,125.9L1114.3,326.4L1114.6,125.9L1114.6,320.0L1115.5,414.2L1116.3,419.5L1117.2,552.9L1118.2,454.0L1119.2,114.5L1119.9,159.4L1120.6,128.3L1121.4,172.5L1122.1,146.4L1122.8,229.3L1123.5,209.0L1124.2,229.3L1124.9,125.9L1125.8,275.4L1126.7,162.9L1127.5,535.5L1128.4,535.5L1129.1,534.9L1129.9,294.7L1130.7,181.1L1131.4,203.4L1132.2,186.8L1133.0,213.2L1133.7,213.2L1134.5,123.6L1135.3,123.6L1136.0,169.7L1136.8,155.2L1137.6,252.3L1137.6,673.4L1138.4,599.5L1139.3,239.9L1140.2,529.1L1141.0,146.6L1141.8,481.6L1142.5,437.8L1143.3,632.4L1144.5,199.4L1145.2,239.1L1146.0,216.6L1146.7,282.1L1147.5,245.9L1148.3,145.9L1149.0,142.0L1150.2,506.1L1151.3,148.9L1152.0,554.1L1152.8,497.1L1153.6,217.0L1154.3,103.0L1155.1,420.9L1156.3,423.1L1157.1,132.8L1157.5,656.0L1158.3,656.0L1159.1,462.5L1159.9,413.0L1160.7,189.3L1161.5,221.5L1162.4,111.0L1163.2,639.9L1164.0,529.7L1164.7,247.7L1165.5,451.3L1166.3,142.0L1167.1,547.2L1167.8,547.2L1168.6,516.0L1169.3,517.8L1170.1,492.1L1170.9,220.1L1171.9,688.3L1172.6,668.2L1173.3,358.9L1174.0,521.2L1174.7,217.8L1175.5,217.8L1176.3,658.3L1177.0,658.9L1177.8,659.0L1178.6,659.4L1179.4,127.1L1180.5,621.7L1181.7,165.0L1181.8,669.7L1182.6,694.7L1183.4,680.4L1184.2,707.6L1185.0,685.9L1185.7,720.7L1186.5,699.2L1187.3,720.7L1188.5,143.2L1189.5,270.7L1190.4,300.5L1191.8,564.1L1192.7,479.9L1193.6,170.6L1194.5,146.6L1195.0,286.7L1195.7,265.6L1196.5,184.5L1197.3,184.5L1198.0,378.1L1198.8,305.8L1199.5,465.6L1200.2,403.6L1201.0,639.9L1201.7,639.9L1202.5,521.6L1203.3,154.6L1204.2,154.6L1205.3,342.2L1206.5,192.5L1207.2,271.5L1208.0,267.1L1208.8,312.0L1209.5,312.0L1210.3,262.1L1211.1,241.9L1211.9,436.2L1212.8,447.8L1213.7,456.8L1214.5,227.0L1215.3,616.5L1216.1,715.7L1216.9,643.9L1217.6,199.9L1218.4,435.5L1219.1,166.1L1219.8,333.5L1220.6,207.5L1221.3,477.1L1222.1,572.8L1222.9,514.8L1223.7,151.2L1224.5,299.3L1225.3,432.3L1226.2,327.1L1227.1,184.5L1227.9,413.0L1228.7,413.0L1229.4,404.5L1230.2,406.5L1230.9,402.9L1231.7,206.3L1232.0,546.7"/>
<path stroke="#d95319" stroke-width="3.4" d="M740.3,745.0L741.0,748.7L741.7,743.6L742.4,736.5L743.1,743.3L743.8,724.5L744.5,719.6L745.2,723.7L745.9,713.9L746.6,721.8L747.3,731.5L748.0,732.5L748.7,746.0L749.5,732.6L750.2,728.1L751.1,734.4L751.9,727.0L752.7,733.7L753.6,740.8L754.3,733.1L755.1,721.8L755.8,710.5L756.5,694.3L757.4,717.2L758.2,728.1L758.9,733.3L759.6,737.9L760.3,750.3L761.0,755.1L761.8,740.3L762.5,736.5L763.2,743.3L763.9,742.9L764.6,735.5L765.3,744.6L766.0,737.8L766.7,751.3L767.4,743.8L768.1,751.2L768.8,749.2L769.6,742.6L770.5,730.2L771.2,739.9L772.0,749.2L772.7,743.9L773.4,694.3L774.3,721.8L775.1,736.5L776.0,747.4L776.8,757.7L777.5,750.0L778.2,746.3L778.9,740.8L779.7,743.3L780.4,736.5L781.1,746.4L781.9,749.2L782.6,744.5L783.3,760.8L784.0,756.6L784.8,760.3L785.7,755.5L786.7,637.3L787.5,640.8L788.2,537.0L789.1,590.7L789.9,620.4L791.0,753.4L791.7,744.8L792.4,698.5L793.3,721.2L794.1,732.3L795.0,725.6L795.8,609.8L796.6,648.7L797.3,671.1L798.0,622.0L798.8,568.6L800.0,590.8L801.1,747.1L801.8,758.9L802.6,753.4L803.3,760.2L804.0,750.4L804.7,753.4L805.4,741.6L806.1,721.0L806.8,715.4L807.5,723.4L808.2,695.6L808.9,698.5L809.6,735.7L810.3,714.9L811.0,742.9L812.1,664.7L812.8,654.3L813.6,587.6L814.8,639.4L815.6,719.6L816.3,751.3L817.0,750.9L817.7,735.3L818.4,728.1L819.2,735.8L819.9,742.9L820.7,738.9L821.6,659.5L822.6,673.2L823.7,757.7L824.8,711.2L825.5,711.1L826.2,685.9L827.1,673.5L827.9,660.5L829.0,643.6L829.7,734.1L830.5,791.4L831.7,681.6L832.5,694.9L833.2,702.7"/>
</g>
</g>
<g fill="#262626" font-size="64" text-anchor="middle"><text x="372.51" y="1478">800</text><text x="553.32" y="1478">1000</text><text x="734.13" y="1478">1200</text><text x="914.94" y="1478">1400</text><text x="1095.76" y="1478">1600</text><text x="1276.57" y="1478">1800</text><text x="1457.38" y="1478">2000</text><text x="1638.19" y="1478">2200</text><text x="1819.01" y="1478">2400</text></g>
<g fill="#262626" font-size="64" text-anchor="end"><text x="210" y="1416.50">-0.2</text><text x="210" y="1193.17">-0.1</text><text x="210" y="969.83">0</text><text x="210" y="746.50">0.1</text><text x="210" y="523.17">0.2</text><text x="210" y="299.83">0.3</text><text x="210" y="76.50">0.4</text></g>
<text x="784" y="1582.5" font-size="70" fill="#262626">Wavenumber (cm)<tspan font-size="54" dx="-5" dy="-31">-1</tspan></text>
<text transform="translate(74,856.3) rotate(-90) scale(1.42,1.156)" font-size="69" fill="#262626" style="font-family:'Liberation Serif',serif">&#916;</text>
<text transform="translate(74,776.7) rotate(-90)" font-size="70" fill="#262626">BT (K)</text>
<g stroke-width="3" fill="none">
<path d="M1605,139.5H1726" stroke="#0072bd"/>
<path d="M1605,219.5H1726" stroke="#d95319"/>
</g>
<g font-size="64" fill="#000">
<text x="1736.5" y="164">Bias</text>
<text x="1736.5" y="244">Stdev</text>
</g>
</svg>
</body></html>
